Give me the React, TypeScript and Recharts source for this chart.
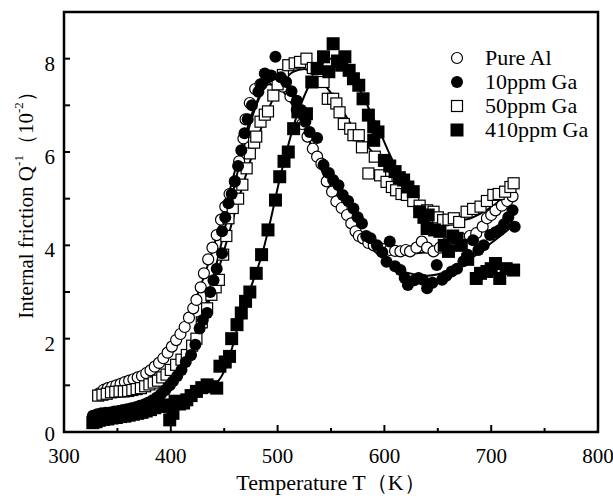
import React from "react";
import { ComposedChart, Scatter, Line, XAxis, YAxis, ReferenceArea, Legend } from "recharts";

const FONT = "'Liberation Serif', 'Times New Roman', serif";

// measured points, T in K, Q^-1 in 10^-2
const pureAlT = [333, 337, 341, 345, 349, 353, 357, 361, 365, 369, 373, 377, 381, 385, 389, 393, 397, 401, 405, 409, 413, 417, 421, 424, 428, 431, 435, 439, 443, 447, 451, 455, 460, 464, 468, 470, 474, 479, 484, 490, 497, 505, 512, 518, 523, 528, 533, 537, 541, 546, 551, 555, 560, 565, 569, 573, 576, 580, 585, 590, 595, 600, 605, 610, 615, 620, 624, 630, 635, 640, 646, 652, 658, 665, 672, 680, 686, 692, 696, 700, 704, 710, 715, 720];
const pureAlQ = [0.83, 0.9, 0.94, 0.97, 1.0, 1.03, 1.07, 1.1, 1.13, 1.17, 1.2, 1.26, 1.32, 1.4, 1.48, 1.58, 1.7, 1.83, 1.97, 2.1, 2.25, 2.45, 2.65, 2.83, 3.1, 3.4, 3.7, 3.95, 4.22, 4.55, 4.83, 5.1, 5.37, 5.8, 6.29, 6.7, 7.05, 7.35, 7.45, 7.6, 7.55, 7.4, 7.19, 6.9, 6.6, 6.33, 6.07, 5.9, 5.75, 5.37, 5.15, 4.94, 4.8, 4.65, 4.47, 4.3, 4.2, 4.15, 4.05, 4.0, 3.95, 3.92, 3.9, 3.88, 3.87, 3.9, 3.87, 3.95, 4.08, 3.95, 3.87, 3.95, 4.04, 4.1, 4.15, 4.2, 4.26, 4.4, 4.58, 4.65, 4.75, 4.85, 4.95, 5.05];

const ga10T = [327, 331, 335, 339, 343, 347, 351, 355, 359, 363, 367, 371, 375, 379, 383, 387, 391, 395, 399, 402, 406, 410, 414, 419, 423, 427, 430, 434, 437, 440, 443, 448, 448, 451, 454, 457, 460, 463, 466, 469, 472, 476, 482, 485, 488, 491, 494, 498, 503, 508, 513, 518, 522, 526, 530, 537, 543, 548, 552, 557, 561, 566, 571, 575, 579, 583, 587, 593, 598, 602, 605, 610, 615, 619, 622, 628, 632, 636, 640, 645, 649, 654, 658, 663, 668, 674, 678, 683, 688, 693, 699, 704, 708, 712, 716, 720, 722];
const ga10Q = [0.35, 0.38, 0.4, 0.41, 0.42, 0.44, 0.45, 0.47, 0.49, 0.51, 0.53, 0.56, 0.59, 0.63, 0.68, 0.74, 0.82, 0.9, 1.0, 1.09, 1.2, 1.33, 1.5, 1.65, 1.87, 2.22, 2.4, 2.55, 3.0, 3.25, 3.5, 3.83, 4.3, 4.6, 4.9, 5.1, 5.37, 5.7, 6.04, 6.4, 6.7, 7.0, 7.29, 7.45, 7.68, 7.6, 7.64, 8.04, 7.6, 7.5, 7.3, 7.1, 6.9, 6.65, 6.43, 6.3, 5.72, 5.55, 5.4, 5.29, 5.08, 4.95, 4.79, 4.6, 4.47, 4.2, 4.15, 4.0, 3.85, 3.65, 4.08, 3.55, 3.47, 3.3, 3.15, 3.25, 3.3, 3.26, 3.08, 3.2, 3.58, 3.26, 3.35, 3.44, 3.5, 3.66, 3.8, 4.11, 3.9, 4.0, 4.22, 4.28, 4.33, 4.45, 4.6, 4.75, 4.4];

const ga50T = [332, 336, 340, 344, 348, 352, 356, 360, 364, 368, 372, 376, 380, 384, 388, 392, 396, 400, 405, 410, 415, 420, 424, 429, 434, 438, 442, 445, 449, 452, 454, 458, 463, 467, 471, 474, 478, 480, 484, 488, 491, 496, 500, 505, 510, 516, 521, 527, 533, 538, 543, 547, 552, 555, 558, 562, 568, 571, 576, 579, 585, 591, 596, 602, 607, 611, 616, 621, 627, 633, 640, 646, 650, 655, 660, 665, 670, 677, 683, 690, 696, 702, 707, 713, 718, 721];
const ga50Q = [0.78, 0.8, 0.82, 0.85, 0.86, 0.87, 0.87, 0.88, 0.9, 0.92, 0.94, 0.98, 1.02, 1.06, 1.1, 1.17, 1.23, 1.33, 1.44, 1.55, 1.65, 1.85, 2.0, 2.35, 2.65, 2.94, 3.1, 3.26, 3.8, 4.2, 4.58, 4.8, 5.0, 5.3, 5.65, 5.97, 6.2, 6.33, 6.65, 6.8, 6.87, 7.21, 7.45, 7.65, 7.86, 7.9, 7.93, 8.0, 7.8, 7.6, 7.5, 7.14, 7.14, 7.04, 6.85, 6.6, 6.5, 6.36, 6.36, 6.1, 5.54, 5.9, 5.5, 5.36, 5.25, 5.18, 5.1, 5.08, 4.95, 4.85, 4.75, 4.72, 4.6, 4.54, 4.55, 4.58, 4.5, 4.72, 4.78, 4.83, 4.95, 5.08, 5.1, 5.15, 5.25, 5.33];

const ga410T = [327, 330, 333, 337, 341, 345, 349, 353, 357, 361, 365, 369, 373, 377, 381, 385, 389, 393, 396, 399, 402, 404, 408, 412, 415, 419, 424, 429, 434, 439, 443, 446, 451, 455, 457, 462, 466, 470, 474, 480, 485, 491, 498, 502, 506, 510, 515, 519, 527, 532, 537, 543, 548, 552, 556, 560, 563, 567, 571, 576, 580, 585, 590, 590, 594, 600, 605, 610, 614, 618, 622, 627, 633, 637, 641, 640, 647, 652, 656, 660, 664, 668, 672, 678, 686, 690, 696, 700, 704, 708, 714, 721];
const ga410Q = [0.2, 0.22, 0.25, 0.27, 0.28, 0.3, 0.31, 0.33, 0.34, 0.36, 0.38, 0.4, 0.42, 0.45, 0.48, 0.52, 0.55, 0.58, 0.55, 0.26, 0.4, 0.66, 0.6, 0.62, 0.69, 0.78, 0.87, 0.95, 1.01, 0.97, 0.94, 1.41, 1.5, 1.62, 2.0, 2.3, 2.55, 2.8, 3.0, 3.4, 3.8, 4.33, 4.97, 5.47, 5.8, 6.0, 6.5, 6.86, 6.82, 7.5, 7.79, 8.04, 7.72, 8.32, 7.95, 7.86, 8.04, 7.75, 7.57, 7.43, 7.14, 6.79, 6.54, 6.25, 6.43, 5.82, 5.7, 5.58, 5.45, 5.4, 5.25, 5.15, 4.72, 4.6, 4.65, 4.36, 4.33, 4.3, 4.0, 3.87, 4.2, 4.15, 4.0, 3.7, 3.29, 3.4, 3.44, 3.5, 3.61, 3.29, 3.5, 3.47];

// fitted curves
const fitAlT = [335, 350, 370, 390, 405, 420, 435, 450, 465, 480, 492, 505, 520, 535, 550, 565, 580, 600, 620, 640, 660, 680, 700, 720];
const fitAlQ = [1.0, 1.07, 1.22, 1.55, 1.95, 2.65, 3.6, 4.75, 6.0, 7.05, 7.45, 7.3, 6.75, 5.95, 5.15, 4.55, 4.15, 3.9, 3.82, 3.85, 3.95, 4.2, 4.55, 5.0];
const fit10T = [330, 350, 370, 390, 405, 420, 435, 450, 465, 480, 495, 510, 525, 540, 555, 570, 585, 600, 620, 640, 660, 680, 700, 722];
const fit10Q = [0.32, 0.4, 0.52, 0.8, 1.2, 1.85, 2.9, 4.3, 5.8, 7.0, 7.55, 7.3, 6.5, 5.7, 5.0, 4.45, 4.0, 3.7, 3.42, 3.35, 3.45, 3.7, 4.05, 4.45];
const fit50T = [330, 350, 370, 390, 405, 420, 435, 450, 465, 480, 492, 505, 515, 525, 540, 555, 570, 585, 600, 615, 630, 645, 660, 675, 690, 705, 720];
const fit50Q = [0.8, 0.86, 0.95, 1.15, 1.45, 1.95, 2.75, 3.9, 5.1, 6.2, 6.95, 7.5, 7.72, 7.78, 7.55, 7.1, 6.55, 6.1, 5.7, 5.3, 4.98, 4.75, 4.58, 4.55, 4.68, 4.9, 5.2];
const fit410T = [443, 450, 458, 465, 472, 478, 485, 492, 502, 510, 518, 525, 532, 540, 548, 555, 562, 570, 580, 588, 596, 605, 615, 624, 632, 640, 648];
const fit410Q = [1.05, 1.3, 1.85, 2.45, 2.9, 3.3, 3.77, 4.4, 5.42, 6.15, 6.78, 7.2, 7.55, 7.85, 8.0, 8.0, 7.85, 7.6, 7.2, 6.8, 6.42, 5.95, 5.49, 5.1, 4.77, 4.52, 4.38];

const xTicks = [300, 350, 400, 450, 500, 550, 600, 650, 700, 750, 800];
const yTicks = [0, 1, 2, 3, 4, 5, 6, 7, 8];

const seriesNames = ["Pure Al", "10ppm Ga", "50ppm Ga", "410ppm Ga"];

const pts = (t: number[], q: number[]) => t.map((v, i) => ({ t: v, q: q[i] }));

const OpenCircle = (p: any) => <circle cx={p.cx} cy={p.cy} r={5.5} fill="#fff" stroke="#000" strokeWidth={1.2} />;
const FilledCircle = (p: any) => <circle cx={p.cx} cy={p.cy} r={6} fill="#000" />;
const OpenSquare = (p: any) => <rect x={p.cx - 5.5} y={p.cy - 5.5} width={11} height={11} fill="#fff" stroke="#000" strokeWidth={1.2} />;
const FilledSquare = (p: any) => <rect x={p.cx - 6.5} y={p.cy - 6.5} width={13} height={13} fill="#000" />;

const XTick = (p: any) => {
  const v = p.payload.value;
  const major = v % 100 === 0;
  return (
    <g>
      {v > 300 && v < 800 && <line x1={p.x} x2={p.x} y1={p.y} y2={p.y - (major ? 7 : 4)} stroke="#000" strokeWidth={2} />}
      {major && (
        <text x={p.x} y={p.y + 31} textAnchor="middle" fontSize={21} fontFamily={FONT} fill="#000">
          {v}
        </text>
      )}
    </g>
  );
};

const YTick = (p: any) => {
  const v = p.payload.value;
  return (
    <g>
      {v > 0 && <line x1={p.x} x2={p.x + 6} y1={p.y} y2={p.y} stroke="#000" strokeWidth={2} />}
      {v % 2 === 0 && (
        <text x={p.x - 9} y={p.y + (v === 0 ? 2 : 5)} textAnchor="end" dominantBaseline="central" fontSize={21} fontFamily={FONT} fill="#000">
          {v}
        </text>
      )}
    </g>
  );
};

const renderYLabel = () => (
  <text transform="translate(26,200) rotate(-90)" textAnchor="middle" dominantBaseline="central" fontSize={21} fontFamily={FONT} fill="#000">
    Internal friction Q<tspan fontSize={13} dy={-8}>-1</tspan>
    <tspan dy={8}>（10</tspan>
    <tspan fontSize={13} dy={-8}>-2</tspan>
    <tspan dy={8}>）</tspan>
  </text>
);

const renderXLabel = () => (
  <text x={331} y={490} textAnchor="middle" fontSize={22} fontFamily={FONT} fill="#000">
    Temperature T（K）
  </text>
);

const legendIcons = [
  <circle cx={10} cy={10} r={5.5} fill="#fff" stroke="#000" strokeWidth={1.2} />,
  <circle cx={10} cy={10} r={6} fill="#000" />,
  <rect x={4.5} y={4.5} width={11} height={11} fill="#fff" stroke="#000" strokeWidth={1.2} />,
  <rect x={3.5} y={3.5} width={13} height={13} fill="#000" />,
];

const renderLegend = () => (
  <div style={{ fontFamily: FONT, fontSize: 22, color: "#000" }}>
    {seriesNames.map((name, i) => (
      <div key={name} style={{ display: "flex", alignItems: "center", height: 24 }}>
        <svg width={20} height={20}>{legendIcons[i]}</svg>
        <span style={{ marginLeft: 18, lineHeight: "24px" }}>{name}</span>
      </div>
    ))}
  </div>
);

export default function App() {
  return (
    <div style={{ position: "absolute", left: 0, top: 0, background: "#fff" }}>
      <ComposedChart width={613} height={496} margin={{ top: 12, right: 15, bottom: 0, left: 0 }}>
        <XAxis
          dataKey="t"
          type="number"
          domain={[300, 800]}
          ticks={xTicks}
          interval={0}
          height={64}
          tickSize={0}
          tickMargin={0}
          tickLine={false}
          axisLine={false}
          tick={<XTick />}
          label={renderXLabel}
        />
        <YAxis
          dataKey="q"
          type="number"
          domain={[0, 9]}
          ticks={yTicks}
          interval={0}
          width={64}
          tickSize={0}
          tickMargin={0}
          tickLine={false}
          axisLine={false}
          tick={<YTick />}
          label={renderYLabel}
        />
        <ReferenceArea x1={300} x2={800} y1={0} y2={9} fill="none" stroke="#000" strokeWidth={2.5} />
        <Scatter name={seriesNames[0]} data={pts(pureAlT, pureAlQ)} dataKey="q" shape={OpenCircle} isAnimationActive={false} />
        <Scatter name={seriesNames[2]} data={pts(ga50T, ga50Q)} dataKey="q" shape={OpenSquare} isAnimationActive={false} />
        <Scatter name={seriesNames[1]} data={pts(ga10T, ga10Q)} dataKey="q" shape={FilledCircle} isAnimationActive={false} />
        <Scatter name={seriesNames[3]} data={pts(ga410T, ga410Q)} dataKey="q" shape={FilledSquare} isAnimationActive={false} />
        <Line data={pts(fitAlT, fitAlQ)} dataKey="q" type="monotone" dot={false} stroke="#000" strokeWidth={2} isAnimationActive={false} legendType="none" />
        <Line data={pts(fit10T, fit10Q)} dataKey="q" type="monotone" dot={false} stroke="#000" strokeWidth={2} isAnimationActive={false} legendType="none" />
        <Line data={pts(fit50T, fit50Q)} dataKey="q" type="monotone" dot={false} stroke="#000" strokeWidth={2} isAnimationActive={false} legendType="none" />
        <Line data={pts(fit410T, fit410Q)} dataKey="q" type="monotone" dot={false} stroke="#000" strokeWidth={2} isAnimationActive={false} legendType="none" />
        <Legend
          layout="vertical"
          align="center"
          verticalAlign="middle"
          content={renderLegend}
          wrapperStyle={{ left: 447, top: 46, width: 166 }}
        />
      </ComposedChart>
    </div>
  );
}
